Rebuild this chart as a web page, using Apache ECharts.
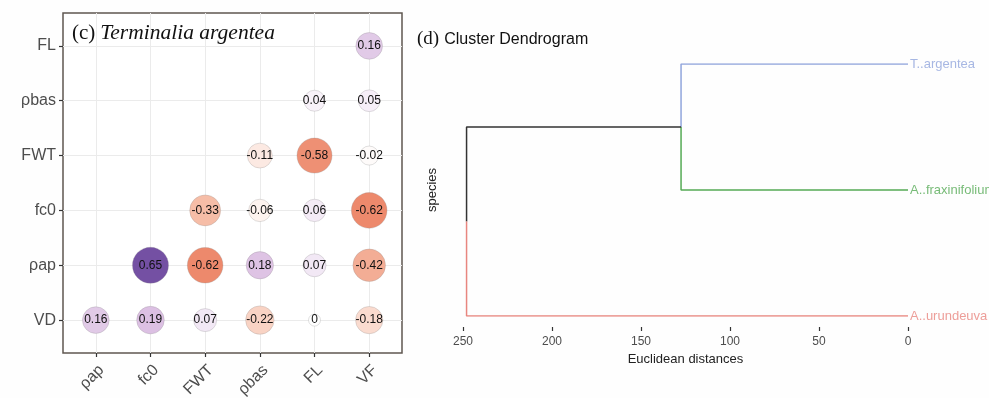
<!DOCTYPE html>
<html>
<head>
<meta charset="utf-8">
<script src="https://cdn.jsdelivr.net/npm/echarts@6/dist/echarts.min.js"></script>
<style>
  html, body { margin: 0; padding: 0; background: #fefefe; }
  #chart { width: 989px; height: 398px; }
</style>
</head>
<body>
<div id="chart"></div>
<script>
// (c) correlation matrix, Terminalia argentea
const xVars = ['ρap', 'fc0', 'FWT', 'ρbas', 'FL', 'VF'];
const yVars = ['VD', 'ρap', 'fc0', 'FWT', 'ρbas', 'FL'];
const rowVD = [0.16, 0.19, 0.07, -0.22, 0, -0.18];
const rowRhoAp = [null, 0.65, -0.62, 0.18, 0.07, -0.42];
const rowFc0 = [null, null, -0.33, -0.06, 0.06, -0.62];
const rowFWT = [null, null, null, -0.11, -0.58, -0.02];
const rowRhoBas = [null, null, null, null, 0.04, 0.05];
const rowFL = [null, null, null, null, null, 0.16];

// (d) cluster dendrogram
const leaves = ['A..urundeuva', 'A..fraxinifolium', 'T..argentea'];
const leafColors = ['#e8867f', '#55aa55', '#91a5dc'];
const mergeHeights = [127.5, 248]; // T..argentea + A..fraxinifolium, then + A..urundeuva

const rows = [rowVD, rowRhoAp, rowFc0, rowFWT, rowRhoBas, rowFL];
const corrData = [];
rows.forEach(function (row, yi) {
  row.forEach(function (v, xi) {
    if (v !== null) corrData.push([xi, yi, v]);
  });
});

function bubbleSize(v) {
  return 12 + 24 * Math.pow(Math.abs(v) / 0.65, 0.35);
}

// dendrogram layout from the leaves (y = 1,2,3) and merge heights
const node1 = [mergeHeights[0], (2 + 3) / 2];
const root = [mergeHeights[1], (1 + node1[1]) / 2];
const branches = [
  { color: leafColors[2], pts: [node1, [node1[0], 3], [0, 3]] },
  { color: leafColors[1], pts: [node1, [node1[0], 2], [0, 2]] },
  { color: '#333333', pts: [root, [root[0], node1[1]], node1] },
  { color: leafColors[0], pts: [root, [root[0], 1], [0, 1]] }
];

// ggplot-style panel: 0.6 category of padding on each side
const PAD = 0.6;
const idx = [0, 1, 2, 3, 4, 5];
const gridMarks = [];
idx.forEach(function (i) {
  gridMarks.push([{ coord: [i, -PAD] }, { coord: [i, 5 + PAD] }]);
  gridMarks.push([{ coord: [-PAD, i] }, { coord: [5 + PAD, i] }]);
});

const option = {
  backgroundColor: '#fefefe',
  animation: false,
  textStyle: { fontFamily: 'Liberation Sans, Arial, sans-serif' },
  title: [
    {
      left: 67, top: 17,
      text: '{a|(c)} {b|Terminalia argentea}',
      textStyle: {
        fontWeight: 'normal',
        rich: {
          a: { fontFamily: 'Liberation Serif', fontWeight: 'normal', fontSize: 21, color: '#111' },
          b: { fontFamily: 'Liberation Serif', fontWeight: 'normal', fontStyle: 'italic', fontSize: 21.5, color: '#111' }
        }
      }
    },
    {
      left: 412, top: 25,
      text: '{a|(d)} {b|Cluster Dendrogram}',
      textStyle: {
        fontWeight: 'normal',
        rich: {
          a: { fontFamily: 'Liberation Serif', fontWeight: 'normal', fontSize: 19, color: '#111' },
          b: { fontFamily: 'Liberation Sans', fontWeight: 'normal', fontSize: 16, color: '#111' }
        }
      }
    }
  ],
  visualMap: {
    show: false,
    seriesIndex: 1,
    dimension: 2,
    min: -0.65,
    max: 0.65,
    inRange: { color: ['#ec8466', '#f6bea8', '#ffffff', '#c393cf', '#7450a3'] }
  },
  grid: [
    { left: 63, top: 13, width: 339, height: 340, show: true, outerBoundsMode: 'none',
      borderColor: '#5f5750', borderWidth: 1.5, backgroundColor: '#ffffff' },
    { left: 463, right: 81, top: 64, bottom: 82, outerBoundsMode: 'none' }
  ],
  xAxis: [
    {
      gridIndex: 0, type: 'value', min: -PAD, max: 5 + PAD,
      axisLine: { show: false, onZero: false },
      splitLine: { show: false },
      axisTick: { show: true, customValues: idx, length: 4, lineStyle: { color: '#333', width: 1.2 } },
      axisLabel: {
        customValues: idx, rotate: 45, margin: 9, verticalAlign: 'top',
        fontSize: 16, color: '#4d4d4d',
        formatter: function (v) { return xVars[Math.round(v)]; }
      }
    },
    {
      gridIndex: 1, type: 'value', min: 0, max: 250, interval: 50, inverse: true,
      offset: 11,
      axisLine: { show: false, onZero: false },
      splitLine: { show: false },
      axisTick: { show: true, length: 4, lineStyle: { color: '#333', width: 1.2 } },
      axisLabel: { fontSize: 12, color: '#4d4d4d', margin: 9 },
      name: 'Euclidean distances', nameLocation: 'middle', nameGap: 21,
      nameTextStyle: { fontSize: 13, color: '#222' }
    }
  ],
  yAxis: [
    {
      gridIndex: 0, type: 'value', min: -PAD, max: 5 + PAD,
      axisLine: { show: false, onZero: false },
      splitLine: { show: false },
      axisTick: { show: true, customValues: idx, length: 4, lineStyle: { color: '#333', width: 1.2 } },
      axisLabel: {
        customValues: idx, margin: 7, fontSize: 16, color: '#4d4d4d',
        formatter: function (v) { return yVars[Math.round(v)]; }
      }
    },
    {
      gridIndex: 1, type: 'value', min: 1, max: 3,
      axisLine: { show: false, onZero: false }, axisTick: { show: false },
      axisLabel: { show: false }, splitLine: { show: false },
      name: 'species', nameLocation: 'middle', nameGap: 24,
      nameTextStyle: { fontSize: 13, color: '#222' }
    }
  ],
  series: [
    {
      type: 'scatter', xAxisIndex: 0, yAxisIndex: 0, data: [], z: 1,
      markLine: {
        silent: true, symbol: 'none', label: { show: false },
        lineStyle: { color: '#ebebeb', type: 'solid', width: 1 },
        data: gridMarks
      }
    },
    {
      type: 'scatter', xAxisIndex: 0, yAxisIndex: 0, z: 5,
      data: corrData,
      symbolSize: function (d) { return bubbleSize(d[2]); },
      itemStyle: { borderColor: 'rgba(140,140,140,0.45)', borderWidth: 0.6, opacity: 1 },
      label: {
        show: true, position: 'inside', fontSize: 12, color: '#111',
        formatter: function (p) { return String(p.value[2]); }
      }
    }
  ].concat(branches.map(function (b) {
    return {
      type: 'line', xAxisIndex: 1, yAxisIndex: 1, showSymbol: false,
      data: b.pts, lineStyle: { color: b.color, width: 1.5 }, z: 3
    };
  })).concat([
    {
      type: 'scatter', xAxisIndex: 1, yAxisIndex: 1, symbolSize: 0,
      data: leaves.map(function (name, i) {
        return {
          value: [0, i + 1],
          label: { color: leafColors[i] }
        };
      }),
      label: {
        show: true, position: 'right', distance: 2, fontSize: 13,
        formatter: function (p) { return leaves[p.dataIndex]; }
      }
    }
  ])
};

const myChart = echarts.init(document.getElementById('chart'));
myChart.setOption(option);
</script>
</body>
</html>
